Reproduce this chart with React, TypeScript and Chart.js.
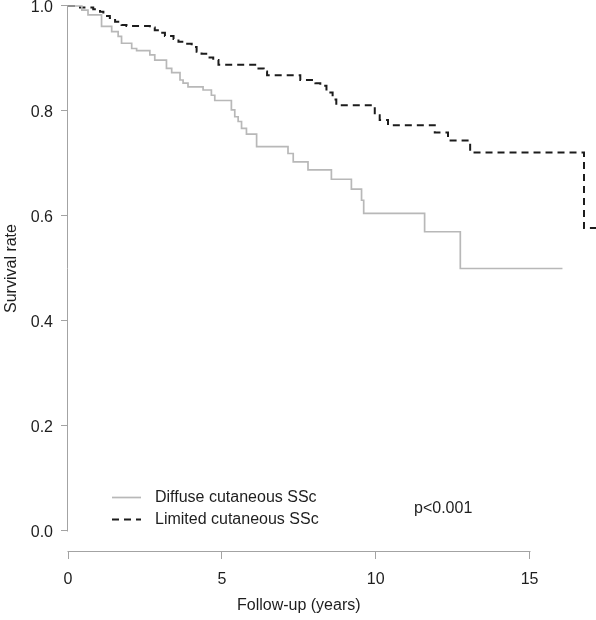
import React, { useEffect, useRef } from 'react';
import { Chart, registerables } from 'chart.js';

Chart.register(...registerables);

// ---- data ----
const diffuseTimes = [0, 0.45, 0.65, 1.09, 1.42, 1.63, 1.74, 2.07, 2.23, 2.66, 2.82, 3.2, 3.37, 3.64, 3.74, 3.9, 4.39, 4.66, 4.77, 5.31, 5.42, 5.53, 5.64, 5.8, 6.13, 7.15, 7.32, 7.8, 8.56, 9.21, 9.54, 9.61, 11.59, 12.75, 16.07];
const diffuseSurvival = [1.0, 0.992, 0.983, 0.961, 0.951, 0.942, 0.929, 0.919, 0.915, 0.907, 0.897, 0.881, 0.873, 0.859, 0.853, 0.846, 0.84, 0.83, 0.82, 0.802, 0.789, 0.78, 0.767, 0.756, 0.732, 0.719, 0.703, 0.688, 0.67, 0.651, 0.63, 0.605, 0.57, 0.5, 0.5];

const limitedTimes = [0, 0.39, 0.82, 1.04, 1.15, 1.36, 1.53, 1.74, 1.9, 2.66, 2.82, 2.99, 3.15, 3.43, 3.59, 3.8, 4.02, 4.18, 4.34, 4.56, 4.72, 4.89, 6.19, 6.36, 6.47, 7.55, 8.04, 8.2, 8.4, 8.6, 8.72, 9.97, 10.13, 10.4, 11.92, 12.35, 13.07, 16.77, 17.3];
const limitedSurvival = [1.0, 0.997, 0.994, 0.989, 0.981, 0.977, 0.97, 0.964, 0.962, 0.959, 0.954, 0.949, 0.943, 0.937, 0.932, 0.928, 0.922, 0.913, 0.909, 0.902, 0.897, 0.888, 0.881, 0.875, 0.868, 0.859, 0.853, 0.848, 0.835, 0.822, 0.811, 0.792, 0.783, 0.773, 0.759, 0.744, 0.721, 0.577, 0.577];

const seriesLabels = ['Diffuse cutaneous SSc', 'Limited cutaneous SSc'];
const xTicks = [0, 5, 10, 15];
const yTicks = [0, 0.2, 0.4, 0.6, 0.8, 1.0];
const xTitle = 'Follow-up (years)';
const yTitle = 'Survival rate';
const pValueText = 'p<0.001';

// ---- styles ----
const FONT = "'Liberation Sans', Arial, sans-serif";
const TEXT = '#1e1e1e';
const AXIS = '#a3a3a3';
const GRAY = '#b8b8b8';
const DARK = '#1c1c1c';

const rStyle = {
  id: 'rStyle',
  afterDraw(chart: any) {
    const { ctx, scales } = chart;
    const x = scales.x;
    const y = scales.y;
    ctx.save();
    // axis lines limited to the tick range (R style)
    ctx.strokeStyle = AXIS;
    ctx.lineWidth = 1;
    const ax = Math.round(x.left) - 0.5;
    ctx.beginPath();
    ctx.moveTo(ax, Math.round(y.getPixelForValue(yTicks[0])) + 0.5);
    ctx.lineTo(ax, Math.round(y.getPixelForValue(yTicks[yTicks.length - 1])) - 0.5);
    ctx.stroke();
    const ay = Math.round(y.bottom) - 0.5;
    ctx.beginPath();
    ctx.moveTo(Math.round(x.getPixelForValue(xTicks[0])) - 0.5, ay);
    ctx.lineTo(Math.round(x.getPixelForValue(xTicks[xTicks.length - 1])) + 0.5, ay);
    ctx.stroke();

    // axis titles
    ctx.fillStyle = TEXT;
    ctx.font = `16px ${FONT}`;
    ctx.textAlign = 'center';
    ctx.textBaseline = 'middle';
    const cx = (x.getPixelForValue(xTicks[0]) + x.getPixelForValue(xTicks[xTicks.length - 1])) / 2;
    ctx.fillText(xTitle, cx, 606);
    const cy = (y.getPixelForValue(yTicks[0]) + y.getPixelForValue(yTicks[yTicks.length - 1])) / 2;
    ctx.save();
    ctx.translate(12, cy);
    ctx.rotate(-Math.PI / 2);
    ctx.fillText(yTitle, 0, 0);
    ctx.restore();

    // legend
    const ds = chart.data.datasets;
    const rows = [497, 519];
    ds.forEach((d: any, i: number) => {
      ctx.save();
      ctx.strokeStyle = d.borderColor;
      ctx.lineWidth = d.borderWidth;
      ctx.setLineDash(d.borderDash || []);
      ctx.beginPath();
      ctx.moveTo(112, rows[i] + 0.5);
      ctx.lineTo(141, rows[i] + 0.5);
      ctx.stroke();
      ctx.restore();
      ctx.fillStyle = TEXT;
      ctx.font = `16px ${FONT}`;
      ctx.textAlign = 'left';
      ctx.textBaseline = 'middle';
      ctx.fillText(d.label, 155, rows[i] + 1);
    });
    ctx.textAlign = 'left';
    ctx.fillText(pValueText, 414, 509);
    ctx.restore();
  },
};

export default function App() {
  const ref = useRef<HTMLCanvasElement>(null);
  useEffect(() => {
    if (!ref.current) return;
    const chart = new Chart(ref.current, {
      type: 'line',
      data: {
        datasets: [
          {
            label: seriesLabels[0],
            data: diffuseTimes.map((t, i) => ({ x: t, y: diffuseSurvival[i] })),
            borderColor: GRAY,
            borderWidth: 1.7,
            stepped: true,
            pointRadius: 0,
            fill: false,
          },
          {
            label: seriesLabels[1],
            data: limitedTimes.map((t, i) => ({ x: t, y: limitedSurvival[i] })),
            borderColor: DARK,
            borderWidth: 2,
            borderDash: [7, 5],
            stepped: true,
            pointRadius: 0,
            fill: false,
          },
        ],
      },
      options: {
        animation: false,
        responsive: false,
        devicePixelRatio: 1,
        layout: { padding: 0 },
        plugins: { legend: { display: false }, tooltip: { enabled: false } },
        scales: {
          x: {
            type: 'linear',
            min: 0,
            max: 17.16,
            afterBuildTicks: (s: any) => {
              s.ticks = xTicks.map((v) => ({ value: v }));
            },
            afterFit: (s: any) => {
              s.height = 68;
              s.paddingLeft = 0;
              s.paddingRight = 0;
            },
            border: { display: false },
            grid: { drawOnChartArea: false, drawTicks: true, tickLength: 7, color: AXIS, lineWidth: 1 },
            ticks: {
              autoSkip: false,
              maxRotation: 0,
              padding: 11,
              color: TEXT,
              font: { family: FONT, size: 16 },
              callback: (v: any) => String(v),
            },
            title: { display: false },
          },
          y: {
            type: 'linear',
            min: -0.04,
            max: 1.0114,
            afterBuildTicks: (s: any) => {
              s.ticks = yTicks.map((v) => ({ value: v }));
            },
            afterFit: (s: any) => {
              s.width = 68;
              s.paddingTop = 0;
              s.paddingBottom = 0;
            },
            border: { display: false },
            grid: { drawOnChartArea: false, drawTicks: true, tickLength: 7, color: AXIS, lineWidth: 1 },
            ticks: {
              autoSkip: false,
              padding: 8,
              labelOffset: 2,
              color: TEXT,
              font: { family: FONT, size: 16 },
              callback: (v: any) => Number(v).toFixed(1),
            },
            title: { display: false },
          },
        },
      },
      plugins: [rStyle],
    });
    return () => chart.destroy();
  }, []);
  return (
    <div style={{ position: 'fixed', left: 0, top: 0, width: 596, height: 620, background: '#fff' }}>
      <canvas ref={ref} width={596} height={620} style={{ display: 'block' }} />
    </div>
  );
}
